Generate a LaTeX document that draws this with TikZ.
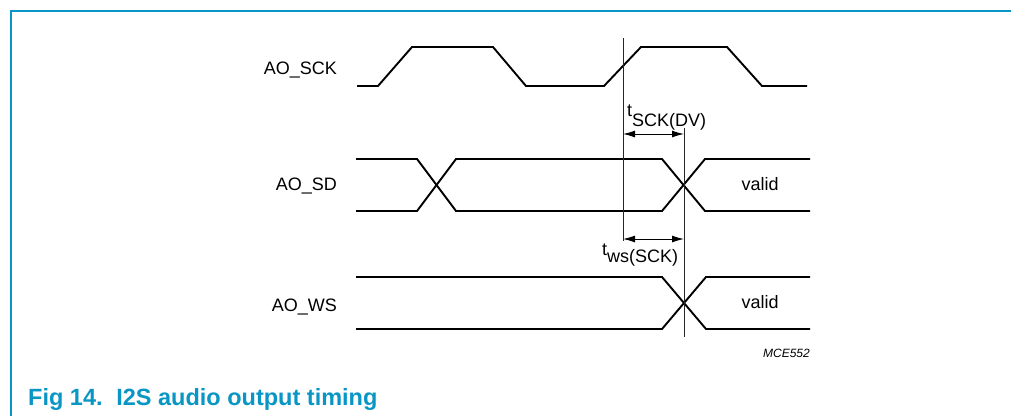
\documentclass[tikz,border=0pt]{standalone}
\usepackage{fontspec}
\setmainfont{Liberation Sans}
\usetikzlibrary{arrows.meta}
\definecolor{nxp}{RGB}{10,150,196}
\begin{document}
\begin{tikzpicture}[x=1pt,y=-1pt,
  sig/.style={line width=1.9pt, line join=miter},
  guide/.style={line width=0.9pt, black!85},
  dim/.style={line width=1pt, {Latex[length=12pt,width=7pt]}-{Latex[length=12pt,width=7pt]}},
  lbl/.style={font=\fontsize{18}{20}\selectfont, inner sep=0pt},
  code/.style={font=\fontsize{12}{14}\selectfont\itshape, inner sep=0pt},
  caption/.style={font=\fontsize{23.5}{26}\selectfont\bfseries, text=nxp, inner sep=0pt},
  ]
\useasboundingbox (0,0) rectangle (1011,416);
\draw[nxp, line width=1.2pt] (11,416) -- (11,11) -- (1011,11);

% signal labels
\node[lbl, anchor=base east] (lsck) at (337,74) {AO\_SCK};
\node[lbl, anchor=base east] (lsd) at (337,190) {AO\_SD};
\node[lbl, anchor=base east] (lws) at (337,311) {AO\_WS};

% AO_SCK
\draw[sig] (357,86) -- (378,86) -- (412,47) -- (493,47) -- (526,86) -- (604,86) -- (641,47) -- (727,47) -- (762,86) -- (807,86);

% AO_SD
\draw[sig] (356,159) -- (417,159) -- (456,211) -- (662,211) -- (705,159) -- (810,159);
\draw[sig] (356,211) -- (417,211) -- (456,159) -- (662,159) -- (705,211) -- (810,211);
\node[lbl, anchor=base] (vsd) at (760,190) {valid};

% AO_WS
\draw[sig] (356,277) -- (662,277) -- (706,329) -- (810,329);
\draw[sig] (356,329) -- (662,329) -- (706,277) -- (810,277);
\node[lbl, anchor=base] (vws) at (760,308) {valid};

% guide lines
\coordinate (g1t) at (623,38);
\coordinate (g1b) at (623,241);
\coordinate (g2t) at (684,128);
\coordinate (g2b) at (684,337);
\draw[guide] (g1t) -- (g1b);
\draw[guide] (g2t) -- (g2b);

% timing arrows
\coordinate (a1l) at (623,134);
\coordinate (a1r) at (684,134);
\coordinate (a2l) at (623,239);
\coordinate (a2r) at (684,239);
\draw[dim] (a1l) -- (a1r);
\draw[dim] (a2l) -- (a2r);
\node[lbl, anchor=base west] (tsck) at (627,116) {t\raisebox{-10pt}{SCK(DV)}};
\node[lbl, anchor=base west] (tws) at (602,255) {t\raisebox{-7pt}{ws(SCK)}};

\node[code, anchor=base east] (mce) at (810,357) {MCE552};

\node[caption, anchor=base west] (cap) at (28,405) {Fig 14.\hspace{5pt} I2S audio output timing};
\end{tikzpicture}
\end{document}
